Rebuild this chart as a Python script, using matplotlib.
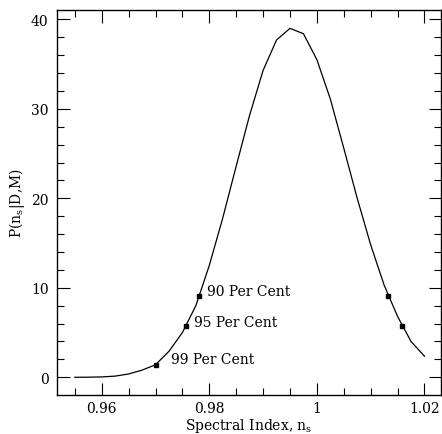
import matplotlib
matplotlib.use('Agg')
import matplotlib.pyplot as plt
from matplotlib.ticker import MultipleLocator

plt.rcParams['font.family'] = 'DejaVu Serif'
plt.rcParams['mathtext.fontset'] = 'dejavuserif'

# posterior of spectral index
n_s = [0.955, 0.9575, 0.96, 0.9625, 0.965, 0.9675, 0.97, 0.9725, 0.975, 0.9775,
       0.98, 0.9825, 0.985, 0.9875, 0.99, 0.9925, 0.995, 0.9975, 1.0, 1.0025,
       1.005, 1.0075, 1.01, 1.0125, 1.015, 1.0175, 1.02]
prob = [0.0, 0.01, 0.04, 0.13, 0.37, 0.8, 1.4, 2.9, 5.0, 8.0,
        12.5, 17.8, 23.6, 29.3, 34.3, 37.7, 39.0, 38.4, 35.5, 31.1,
        25.6, 20.0, 14.8, 10.3, 6.8, 4.0, 2.35]

# confidence limits (square markers)
lim_x = [0.9701, 0.9757, 0.9781, 1.0133, 1.0158]
lim_y = [1.41, 5.73, 9.12, 9.12, 5.73]

labels = ['90 Per Cent', '95 Per Cent', '99 Per Cent']
label_x = [0.9796, 0.9772, 0.9729]
label_y = [9.6, 6.2, 2.0]

fig = plt.figure(figsize=(4.42, 4.35), dpi=100)
ax = fig.add_axes([57/442, 1-396/435, 384/442, 385/435])

ax.plot(n_s, prob, color='black', lw=0.9)
ax.plot(lim_x, lim_y, 's', color='black', ms=3, ls='none')

for t, x, y in zip(labels, label_x, label_y):
    ax.text(x, y, t, fontsize=10, va='center', ha='left')

ax.set_xlim(0.95169, 1.02307)
ax.set_ylim(-1.98, 41.05)

ax.xaxis.set_major_locator(MultipleLocator(0.02))
ax.xaxis.set_minor_locator(MultipleLocator(0.005))
ax.yaxis.set_major_locator(MultipleLocator(10))
ax.yaxis.set_minor_locator(MultipleLocator(2))
ax.set_xticks([0.96, 0.98, 1.0, 1.02])
ax.set_xticklabels(['0.96', '0.98', '1', '1.02'])

ax.tick_params(which='both', direction='in', top=True, right=True, labelsize=10, width=0.8)
ax.tick_params(axis='x', which='major', length=9, pad=4)
ax.tick_params(axis='y', which='major', length=9, pad=6)
ax.tick_params(which='minor', length=5)
for sp in ax.spines.values():
    sp.set_linewidth(1.0)

ax.set_xlabel('Spectral Index, n$_\\mathregular{s}$', fontsize=10, labelpad=1)
ax.set_ylabel('P(n$_\\mathregular{s}$|D,M)', fontsize=10, labelpad=3)

fig.savefig('out.png', dpi=100)
